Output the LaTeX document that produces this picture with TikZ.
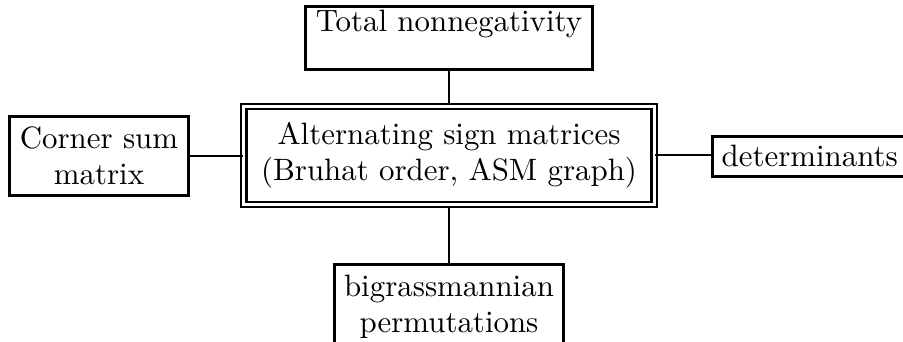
\documentclass[tikz,border=0pt]{standalone}
\begin{document}
\begin{tikzpicture}[x=0.33333pt,y=-0.33333pt,
  every node/.style={font=\fontsize{10.3pt}{12pt}\selectfont},
  box/.style={draw,line width=1pt,inner sep=0pt,align=center},
  mainbox/.style={draw,line width=0.7pt,double,double distance=1pt,align=center,
    minimum width=136.7pt,minimum height=32.7pt},
  link/.style={line width=0.7pt}]
\useasboundingbox (0,0) rectangle (903,342);
\clip (0,0) rectangle (903,342);
\node[mainbox] (asm) at (449,155.5) {Alternating sign matrices\\(Bruhat order, ASM graph)};
\node[box,anchor=base,text height=8.5pt,text depth=12.5pt,minimum width=95.67pt] (tnn) at (449,32) {Total nonnegativity};
\node[draw,line width=1pt,align=center,minimum width=59pt,minimum height=24.3pt] (csm) at (99,156) {Corner sum\\matrix};
\node[draw,line width=1pt,inner xsep=3.2pt,inner ysep=0pt,anchor=base west,text height=10.07pt,text depth=3.27pt,text width=61pt,align=left] (det) at (710.5,166.7) {determinants};
\node[draw,line width=1pt,align=center,inner sep=3.33pt,minimum width=76pt,anchor=north,text depth=8pt] (big) at (449,263.5) {bigrassmannian\\permutations};
\draw[link] (tnn.south) -- (asm.north);
\draw[link] (csm.east) -- (csm.east -| asm.west);
\draw[link] (asm.east |- 0,155) -- (det.west |- 0,155);
\draw[link] (asm.south) -- (big.north);
\end{tikzpicture}
\end{document}
